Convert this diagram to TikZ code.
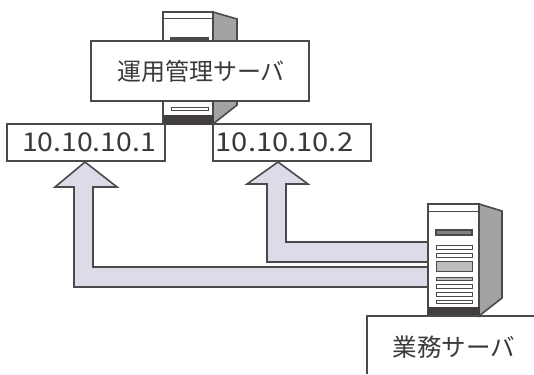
\documentclass[tikz,border=0pt]{standalone}
\usepackage{fontspec}
\setmainfont{Noto Sans CJK JP}
\definecolor{ink}{HTML}{4A4A4A}
\definecolor{txt}{HTML}{3A3A3A}
\definecolor{flow}{HTML}{DDDBE8}
\definecolor{side}{HTML}{A3A3A3}
\definecolor{base}{HTML}{423E3E}
\definecolor{slotg}{HTML}{BDBDBD}
\tikzset{
  line/.style={draw=ink,line width=1.5pt,line join=miter},
  labelbox/.style={line,fill=white,inner sep=0pt,text=txt,font=\fontsize{18pt}{20pt}\selectfont},
  flowarrow/.style={draw=ink,line width=1.2pt,fill=flow,line join=miter},
  front/.style={draw=ink,line width=1.2pt,fill=white},
  sidepanel/.style={draw=ink,line width=1.2pt,fill=side},
  basebar/.style={draw=base,line width=.5pt,fill=base},
  slot/.style={draw=ink,line width=.7pt,fill=white},
  slotfill/.style={draw=ink,line width=.7pt,fill=slotg},
  slotdark/.style={draw=ink,line width=.9pt,fill=ink!70}
}
\begin{document}
\begin{tikzpicture}[x=0.75pt,y=-0.75pt]
\useasboundingbox (0,0) rectangle (534,374);
% flow arrows
\draw[flowarrow] (428,267) -- (93,267) -- (93,187) -- (117,187) -- (85,162) -- (55,187) -- (74,187) -- (74,287) -- (428,287);
\draw[flowarrow] (428,242) -- (286,242) -- (286,184) -- (308,184) -- (278,162) -- (247,184) -- (267,184) -- (267,262) -- (428,262);
% upper server
\draw[sidepanel] (213,12) -- (237,19) -- (237,105) -- (213,124) -- cycle;
\draw[front] (163,12) rectangle (213,124);
\draw[ink,line width=.7pt] (163,18) -- (213,18);
\draw[slotdark] (171,38) rectangle (208,40);
\draw[slot] (171,107) rectangle (208,110);
\draw[basebar] (163,115) rectangle (213,124);
% upper boxes
\node[labelbox,minimum width=163.5pt,minimum height=45pt] (manager) at (200,71) {\hspace*{1.5pt}運用管理サーバ};
\node[labelbox,minimum width=118.5pt,minimum height=27.5pt] (ipa) at (86,142.5) {\hspace*{4.5pt}\fontsize{19.5pt}{20pt}\selectfont\scalebox{1.09}[1]{10.10.10.1}};
\node[labelbox,minimum width=118.5pt,minimum height=27.5pt] (ipb) at (291.5,142.5) {\fontsize{19.5pt}{20pt}\selectfont\scalebox{1.12}[1]{10.10.10.2}\hspace*{10.5pt}};
% lower server
\draw[sidepanel] (479,204) -- (502,211) -- (502,298) -- (479,316) -- cycle;
\draw[front] (428,204) rectangle (479,316);
\draw[ink,line width=.7pt] (428,211) -- (479,211);
\draw[slotdark] (436,230) rectangle (472,235);
\draw[slot] (436,245) rectangle (472,249);
\draw[slot] (436,253) rectangle (472,257);
\draw[slotfill] (436,261) rectangle (472,271);
\draw[slotfill] (436,277) rectangle (472,280);
\draw[slot] (436,284) rectangle (472,288);
\draw[slot] (436,292) rectangle (472,296);
\draw[slot] (436,300) rectangle (472,303);
\draw[basebar] (428,307) rectangle (479,316);
% lower box, running off the picture
\coordinate (boxbl) at (367,374);
\coordinate (boxtl) at (367,316);
\coordinate (boxtr) at (534,316);
\draw[line] (boxbl) -- (boxtl) -- (boxtr);
\node[inner sep=0pt,text=txt,font=\fontsize{18.4pt}{20pt}\selectfont] (work) at (454,347) {業務サーバ};
\end{tikzpicture}
\end{document}
